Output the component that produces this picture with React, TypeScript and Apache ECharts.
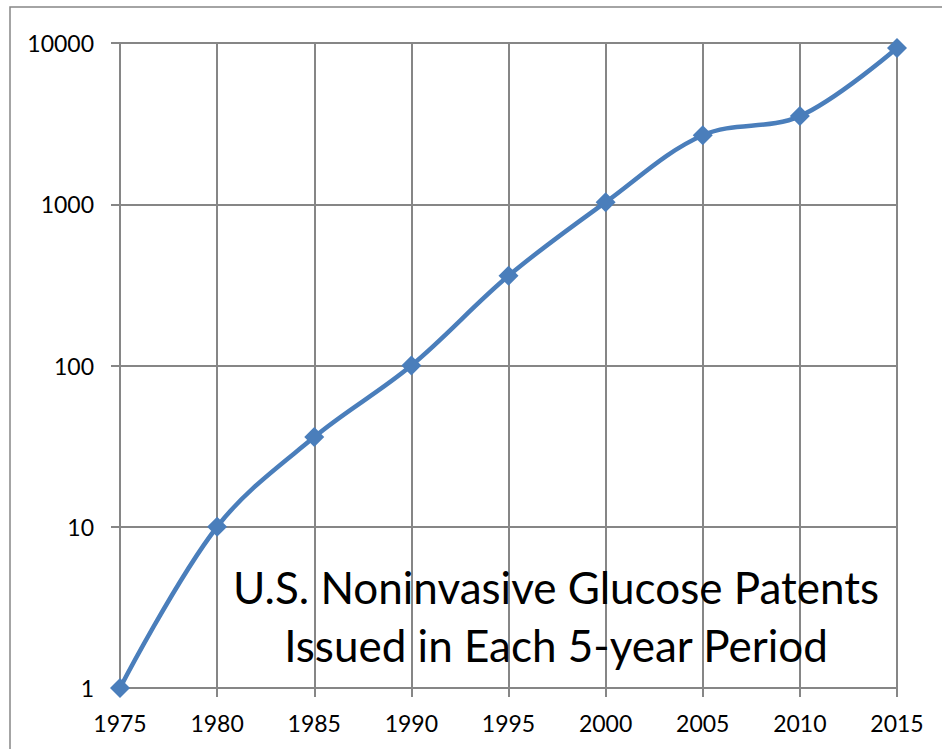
import React, { useEffect, useRef } from "react";
import * as echarts from "echarts";

const years = [1975, 1980, 1985, 1990, 1995, 2000, 2005, 2010, 2015];
const patents = [1, 10, 36, 100, 360, 1030, 2680, 3520, 9300];
const titleLines = ["U.S. Noninvasive Glucose Patents", "Issued in Each 5-year Period"];

export default function App() {
  const ref = useRef<HTMLDivElement>(null);
  useEffect(() => {
    if (!ref.current) return;
    const chart = echarts.init(ref.current, null, { renderer: "svg" });
    const font = "Lato, 'Open Sans', sans-serif";
    chart.setOption({
      animation: false,
      backgroundColor: "#ffffff",
      grid: { left: 120, right: 45, top: 43, bottom: 61 },
      xAxis: {
        type: "value",
        min: 1975,
        max: 2015,
        interval: 5,
        axisLine: { show: true, lineStyle: { color: "#868686", width: 2 } },
        axisTick: { show: true, inside: false, length: 9, lineStyle: { color: "#868686", width: 2 } },
        axisLabel: { color: "#000", fontSize: 23, fontFamily: font, margin: 23, formatter: (v: number) => String(v) },
        splitLine: { show: true, lineStyle: { color: "#868686", width: 2 } },
      },
      yAxis: {
        type: "log",
        logBase: 10,
        min: 1,
        max: 10000,
        axisLine: { show: true, lineStyle: { color: "#868686", width: 2 } },
        axisTick: { show: true, length: 9, lineStyle: { color: "#868686", width: 2 } },
        axisLabel: { color: "#000", fontSize: 23, fontFamily: font, margin: 26, formatter: (v: number) => String(Math.round(v)) },
        splitLine: { show: true, lineStyle: { color: "#868686", width: 2 } },
        minorTick: { show: false },
      },
      series: [
        {
          type: "line",
          data: years.map((y, i) => [y, patents[i]]),
          smooth: 0.35,
          symbol: "diamond",
          symbolSize: 20,
          itemStyle: { color: "#4a7ebb" },
          lineStyle: { color: "#4a7ebb", width: 4.5 },
          z: 5,
        },
      ],
      graphic: [
        {
          type: "rect",
          shape: { x: 10, y: 7, width: 1000, height: 1000 },
          style: { fill: "none", stroke: "#868686", lineWidth: 1.5 },
          silent: true,
        },
        {
          type: "text",
          x: 556,
          y: 558,
          z: 10,
          style: {
            text: titleLines.join("\n"),
            font: "44px Lato, 'Open Sans', sans-serif",
            fill: "#000",
            align: "center",
            verticalAlign: "top",
            lineHeight: 58,
          },
        },
      ],
    });
    return () => chart.dispose();
  }, []);
  return (
    <div
      ref={ref}
      style={{ position: "absolute", left: 0, top: 0, width: 942, height: 749 }}
    />
  );
}
